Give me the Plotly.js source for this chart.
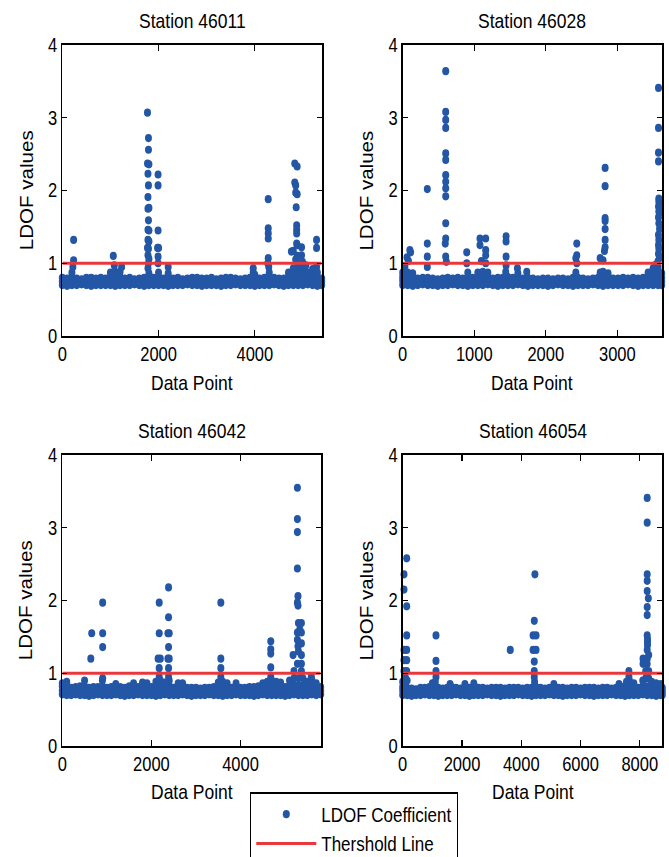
<!DOCTYPE html>
<html>
<head>
<meta charset="utf-8">
<script src="https://cdn.plot.ly/plotly-3.0.1.min.js"></script>
<style>
html,body{margin:0;padding:0;background:#fff;width:669px;height:857px;overflow:hidden;}
#chart{width:669px;height:760px;transform-origin:0 0;}
</style>
</head>
<body>
<div id="chart"></div>
<script>
// ---------- DATA ----------
const stationNames = ['Station 46011', 'Station 46028', 'Station 46042', 'Station 46054'];
const lastPoint = [5390, 3620, 5800, 8760];
const thresholdValue = 1;
const yTicks = [0, 1, 2, 3, 4];

// Station 46011 : dense band of ordinary points (three rows)
const base46011X = [0,100,200,300,400,500,600,700,800,900,1000,1100,1200,1300,1400,1500,1600,1700,1800,1900,2000,2100,2200,2300,2400,2500,2600,2700,2800,2900,3000,3100,3200,3300,3400,3500,3600,3700,3800,3900,4000,4100,4200,4300,4400,4500,4600,4700,4800,4900,5000,5100,5200,5300,5390];
const base46011Lo = [0.70,0.69,0.70,0.70,0.71,0.70,0.69,0.70,0.70,0.70,0.70,0.69,0.70,0.70,0.70,0.71,0.70,0.69,0.70,0.70,0.70,0.70,0.69,0.70,0.70,0.70,0.71,0.70,0.70,0.69,0.70,0.70,0.70,0.69,0.70,0.70,0.71,0.70,0.70,0.70,0.69,0.70,0.70,0.70,0.71,0.70,0.69,0.70,0.70,0.70,0.70,0.71,0.70,0.69,0.70];
const base46011Mid = [0.75,0.75,0.76,0.74,0.75,0.75,0.75,0.74,0.75,0.75,0.76,0.75,0.75,0.74,0.75,0.75,0.74,0.75,0.76,0.75,0.75,0.75,0.75,0.74,0.75,0.75,0.75,0.75,0.74,0.75,0.75,0.74,0.75,0.75,0.75,0.75,0.74,0.75,0.75,0.75,0.76,0.75,0.75,0.76,0.75,0.74,0.75,0.76,0.76,0.76,0.76,0.75,0.76,0.75,0.75];
const base46011Hi = [0.80,0.79,0.81,0.79,0.78,0.80,0.80,0.79,0.80,0.79,0.81,0.80,0.81,0.79,0.80,0.78,0.79,0.80,0.81,0.80,0.81,0.79,0.80,0.79,0.80,0.78,0.79,0.80,0.80,0.79,0.79,0.80,0.78,0.79,0.80,0.80,0.79,0.78,0.79,0.80,0.81,0.79,0.80,0.81,0.80,0.79,0.79,0.81,0.82,0.82,0.82,0.81,0.81,0.80,0.79];
// Station 46011 : raised points / outliers
const out46011X = [200,1000,1100,1200,1800,2000,2200,3967,4000,4300,4700,4800,4800,4900,4900,5000,5000,5100,5200,5200,5300,
  235,235,220,1060,1080,1233,
  1770,1790,1790,1770,1800,1780,1790,1780,1800,1780,1790,1780,1800,1780,1800,1770,1790,1780,1800,1790,1780,
  1990,1990,1990,1980,2000,1990,1990,2200,3967,
  4279,4279,4279,4279,4279,4270,4290,
  4830,4880,4830,4850,4850,4880,4860,4870,4870,4870,4870,4880,4800,4760,4880,4850,4900,4971,4971,4990,5060,
  5283,5283,5283];
const out46011Y = [0.87,0.87,0.88,0.88,0.86,0.87,0.86,0.87,0.84,0.87,0.87,0.87,0.93,0.87,0.93,0.87,0.93,0.87,0.87,0.92,0.87,
  1.32,1.04,0.95,1.10,0.97,0.95,
  3.07,2.72,2.56,2.37,2.36,2.23,2.07,1.91,1.76,1.75,1.59,1.46,1.45,1.32,1.30,1.21,1.20,1.11,1.06,1.00,0.93,
  2.22,2.07,1.45,1.21,1.21,1.09,1.00,0.95,0.93,
  1.88,1.48,1.41,1.34,1.07,1.00,0.95,
  2.37,2.33,2.11,2.07,1.97,1.95,1.77,1.52,1.46,1.41,1.27,1.25,1.17,1.16,1.10,1.05,1.00,1.22,1.11,1.02,0.97,
  1.32,1.21,0.95];

// Station 46028
const base46028X = [0,70,140,210,280,350,420,490,560,630,700,770,840,910,980,1050,1120,1190,1260,1330,1400,1470,1540,1610,1680,1750,1820,1890,1960,2030,2100,2170,2240,2310,2380,2450,2520,2590,2660,2730,2800,2870,2940,3010,3080,3150,3220,3290,3360,3430,3500,3570,3620];
const base46028Lo = [0.70,0.70,0.69,0.70,0.71,0.70,0.70,0.69,0.70,0.70,0.71,0.70,0.70,0.69,0.70,0.70,0.70,0.71,0.70,0.69,0.70,0.70,0.70,0.71,0.70,0.69,0.70,0.70,0.70,0.69,0.70,0.71,0.70,0.70,0.69,0.70,0.70,0.70,0.71,0.70,0.69,0.70,0.70,0.70,0.70,0.71,0.70,0.69,0.70,0.70,0.70,0.70,0.70];
const base46028Mid = [0.76,0.75,0.75,0.74,0.75,0.75,0.75,0.74,0.75,0.75,0.75,0.75,0.74,0.75,0.75,0.75,0.76,0.75,0.74,0.75,0.75,0.76,0.75,0.75,0.74,0.75,0.75,0.74,0.75,0.74,0.74,0.75,0.75,0.74,0.75,0.75,0.75,0.74,0.75,0.75,0.76,0.75,0.75,0.74,0.75,0.75,0.75,0.74,0.75,0.76,0.76,0.76,0.75];
const base46028Hi = [0.81,0.80,0.80,0.79,0.80,0.80,0.79,0.78,0.79,0.80,0.79,0.80,0.79,0.80,0.80,0.80,0.81,0.80,0.79,0.80,0.80,0.81,0.80,0.80,0.79,0.80,0.79,0.78,0.79,0.79,0.78,0.79,0.79,0.78,0.80,0.80,0.79,0.78,0.79,0.80,0.81,0.80,0.79,0.79,0.80,0.79,0.80,0.79,0.80,0.81,0.82,0.82,0.80];
const out46028X = [0,70,140,910,1050,1120,1190,1440,1610,2420,2760,2800,2870,3430,3500,3570,3620,3500,3570,
  60,100,110,80,30,
  344,344,344,344,
  601,601,601,601,601,601,601,601,601,601,601,601,595,601,610,
  895,895,
  1080,1080,1160,1160,1160,1100,1160,
  1445,1445,1445,1445,1603,1734,
  2433,2433,2420,2433,
  2829,2829,2829,2829,2829,2829,2829,2820,2760,2800,
  3575,3575,3575,3575,3580,3580,3575,3580,3575,3580,3590,3575,3580,3575,3580,3575,3590,3570,3600,3600,3600,3540];
const out46028Y = [0.87,0.87,0.86,0.87,0.87,0.88,0.87,0.88,0.86,0.87,0.87,0.88,0.86,0.87,0.88,0.90,0.86,0.93,0.95,
  1.08,1.18,1.15,1.03,0.95,
  2.02,1.27,1.09,0.95,
  3.64,3.08,2.97,2.86,2.51,2.42,2.21,2.12,2.03,1.92,1.55,1.34,1.27,1.09,1.02,
  1.15,1.00,
  1.34,1.25,1.34,1.18,1.11,1.03,1.00,
  1.37,1.30,1.09,0.97,0.93,0.88,
  1.27,1.11,1.07,1.00,
  2.31,2.06,1.62,1.58,1.47,1.32,1.22,1.17,1.07,1.04,
  3.41,2.86,2.52,2.40,1.89,1.85,1.78,1.71,1.63,1.55,1.47,1.39,1.32,1.25,1.20,1.13,1.08,1.03,1.50,1.70,1.80,0.98];

// Station 46042
const base46042X = [0,100,200,300,400,500,600,700,800,900,1000,1100,1200,1300,1400,1500,1600,1700,1800,1900,2000,2100,2200,2300,2400,2500,2600,2700,2800,2900,3000,3100,3200,3300,3400,3500,3600,3700,3800,3900,4000,4100,4200,4300,4400,4500,4600,4700,4800,4900,5000,5100,5200,5300,5400,5500,5600,5700,5800];
const base46042Lo = [0.71,0.70,0.70,0.71,0.70,0.70,0.69,0.70,0.71,0.70,0.70,0.70,0.71,0.70,0.69,0.70,0.70,0.71,0.70,0.70,0.70,0.69,0.70,0.71,0.70,0.70,0.70,0.71,0.70,0.69,0.70,0.70,0.70,0.71,0.70,0.70,0.69,0.70,0.70,0.71,0.70,0.70,0.70,0.69,0.70,0.71,0.70,0.70,0.70,0.70,0.69,0.70,0.71,0.70,0.70,0.70,0.71,0.70,0.71];
const base46042Mid = [0.76,0.76,0.75,0.76,0.76,0.76,0.75,0.75,0.76,0.76,0.75,0.75,0.76,0.76,0.75,0.76,0.76,0.75,0.76,0.76,0.75,0.76,0.77,0.76,0.77,0.75,0.76,0.76,0.75,0.75,0.75,0.74,0.75,0.75,0.76,0.76,0.76,0.75,0.75,0.76,0.75,0.75,0.75,0.76,0.76,0.76,0.76,0.77,0.76,0.76,0.75,0.77,0.77,0.77,0.77,0.76,0.76,0.76,0.76];
const base46042Hi = [0.82,0.82,0.80,0.81,0.82,0.82,0.80,0.81,0.81,0.82,0.80,0.81,0.82,0.81,0.80,0.82,0.82,0.81,0.82,0.82,0.81,0.82,0.83,0.82,0.83,0.80,0.82,0.82,0.80,0.80,0.80,0.79,0.80,0.80,0.81,0.82,0.82,0.81,0.80,0.82,0.80,0.80,0.81,0.81,0.82,0.82,0.82,0.83,0.82,0.82,0.81,0.83,0.83,0.83,0.83,0.82,0.82,0.82,0.81];
const out46042X = [0,100,500,900,1200,1600,1800,1900,2100,2200,2300,2400,2600,2700,3500,3600,3700,3900,4500,4600,4700,4800,4900,5100,5200,5300,5400,5500,5600,5700,
  640,660,906,906,906,906,
  2175,2175,2150,2200,2175,2175,
  2385,2385,2370,2400,2385,2370,2400,2385,2385,
  3558,3558,3558,3558,
  4679,4679,4679,4679,4679,
  5277,5277,5277,5277,5290,5277,5290,5300,5277,5277,5290,5180,5277,5200,5367,5367,5367,5367,5367,5367,5300,5330,5590];
const out46042Y = [0.86,0.88,0.90,0.90,0.85,0.86,0.87,0.86,0.88,0.90,0.87,0.90,0.86,0.86,0.87,0.88,0.86,0.86,0.86,0.88,0.90,0.88,0.87,0.90,0.93,0.93,0.93,0.88,0.91,0.86,
  1.20,1.55,1.97,1.55,1.36,0.93,
  1.97,1.55,1.20,1.20,1.07,0.95,
  2.18,1.77,1.55,1.55,1.36,1.20,1.20,1.07,0.95,
  1.97,1.20,1.07,0.95,
  1.44,1.33,1.27,1.08,0.95,
  3.55,3.12,2.94,2.44,2.06,1.97,1.93,1.69,1.56,1.46,1.37,1.25,1.13,1.03,1.69,1.56,1.41,1.25,1.13,1.03,1.30,1.60,0.95];

// Station 46054
const base46054X = [0,150,300,450,600,750,900,1050,1200,1350,1500,1650,1800,1950,2100,2250,2400,2550,2700,2850,3000,3150,3300,3450,3600,3750,3900,4050,4200,4350,4500,4650,4800,4950,5100,5250,5400,5550,5700,5850,6000,6150,6300,6450,6600,6750,6900,7050,7200,7350,7500,7650,7800,7950,8100,8250,8400,8550,8700,8760];
const base46054Lo = [0.70,0.70,0.69,0.70,0.70,0.71,0.70,0.70,0.69,0.70,0.70,0.70,0.71,0.70,0.70,0.69,0.70,0.70,0.70,0.71,0.70,0.70,0.69,0.70,0.70,0.70,0.71,0.70,0.70,0.69,0.70,0.70,0.70,0.71,0.70,0.70,0.69,0.70,0.70,0.70,0.71,0.70,0.70,0.69,0.70,0.70,0.70,0.71,0.70,0.70,0.69,0.70,0.70,0.70,0.71,0.70,0.70,0.69,0.70,0.70];
const base46054Mid = [0.76,0.75,0.74,0.74,0.75,0.75,0.76,0.76,0.75,0.74,0.75,0.76,0.75,0.74,0.76,0.75,0.76,0.75,0.75,0.74,0.75,0.75,0.75,0.74,0.75,0.75,0.75,0.74,0.75,0.75,0.76,0.75,0.74,0.75,0.76,0.75,0.75,0.74,0.75,0.75,0.74,0.75,0.75,0.75,0.74,0.75,0.75,0.74,0.75,0.76,0.76,0.76,0.76,0.75,0.76,0.76,0.76,0.76,0.76,0.75];
const base46054Hi = [0.81,0.80,0.79,0.78,0.80,0.80,0.81,0.82,0.80,0.79,0.80,0.81,0.80,0.79,0.81,0.80,0.81,0.80,0.80,0.79,0.80,0.80,0.80,0.79,0.80,0.80,0.80,0.79,0.80,0.80,0.81,0.80,0.79,0.80,0.81,0.80,0.80,0.79,0.80,0.80,0.79,0.80,0.80,0.80,0.79,0.80,0.80,0.79,0.80,0.81,0.82,0.82,0.81,0.80,0.82,0.82,0.82,0.81,0.81,0.80];
const out46054X = [0,150,1000,1100,1600,2100,2400,4450,5100,7300,7550,7650,7800,8100,8200,8300,8400,8550,8700,
  44,44,44,44,44,135,135,135,135,135,135,100,
  1123,1123,1123,1123,
  3630,
  4462,4440,4400,4500,4400,4500,4440,4440,4440,
  7633,7633,
  8250,8250,8250,8250,8250,8290,8250,8250,8250,8260,8260,8250,8110,8250,8110,8250,8200,8300,8260,8300];
const out46054Y = [0.88,0.90,0.86,0.88,0.85,0.85,0.86,0.88,0.85,0.85,0.88,0.90,0.86,0.90,0.93,0.93,0.88,0.86,0.85,
  2.36,2.15,1.32,1.18,1.03,2.58,1.92,1.52,1.32,1.18,1.03,0.93,
  1.52,1.17,1.03,0.95,
  1.32,
  2.36,1.72,1.52,1.52,1.32,1.32,1.16,1.03,0.95,
  1.03,0.95,
  3.41,3.07,2.36,2.27,2.13,2.03,1.91,1.80,1.52,1.43,1.39,1.32,1.20,1.20,1.13,1.13,1.03,1.03,1.47,1.25];

// ---------- BUILD ----------
const FONT = 'Liberation Sans, Arial, sans-serif';
const BLUE = '#2456a6';
const RED = '#e8383b';
const S = 1.174;          // vertical stretch of the original figure
const W = 669, HD = 760;  // internal drawing size (stretched by S, clipped to 857)
document.getElementById('chart').style.transform = 'scale(1,' + S + ')';

const series = [
  {bx: base46011X, lo: base46011Lo, mid: base46011Mid, hi: base46011Hi, ox: out46011X, oy: out46011Y},
  {bx: base46028X, lo: base46028Lo, mid: base46028Mid, hi: base46028Hi, ox: out46028X, oy: out46028Y},
  {bx: base46042X, lo: base46042Lo, mid: base46042Mid, hi: base46042Hi, ox: out46042X, oy: out46042Y},
  {bx: base46054X, lo: base46054Lo, mid: base46054Mid, hi: base46054Hi, ox: out46054X, oy: out46054Y}
];

// plot boxes in screen pixels [left, right, top, bottom]
const boxes = [
  [62.3, 321.7, 45, 336],
  [402.7, 661.7, 45, 336],
  [62.3, 320.7, 455, 746],
  [402.7, 662.3, 455, 746]
];
const py = v => 1 - (v / S) / HD;   // screen y -> paper y

const traces = [];
const lineTraces = [];
const layout = {
  width: W, height: HD,
  margin: {l: 0, r: 0, t: 0, b: 0},
  paper_bgcolor: '#fff', plot_bgcolor: '#fff',
  font: {family: FONT, size: 17.5, color: '#000'},
  showlegend: true,
  legend: {
    x: 250 / W, y: py(792), xanchor: 'left', yanchor: 'top',
    bordercolor: '#000', borderwidth: 1.3, bgcolor: '#fff',
    font: {family: FONT, size: 17, color: '#000'},
    tracegroupgap: 0, itemwidth: 60
  },
  annotations: []
};

series.forEach((s, i) => {
  const sfx = i === 0 ? '' : String(i + 1);
  const xa = 'x' + sfx, ya = 'y' + sfx;
  const xs = s.bx.concat(s.bx, s.bx, s.ox);
  const ys = s.lo.concat(s.mid, s.hi, s.oy);
  traces.push({
    type: 'scatter', mode: 'markers', x: xs, y: ys, xaxis: xa, yaxis: ya,
    name: 'LDOF Coefficient', legendgroup: 'ldof', showlegend: i === 0,
    marker: {color: BLUE, size: 7, line: {width: 0}},
    cliponaxis: false, hoverinfo: 'skip'
  });
  lineTraces.push({
    type: 'scatter', mode: 'lines', x: [0, lastPoint[i]], y: [thresholdValue, thresholdValue],
    xaxis: xa, yaxis: ya,
    name: 'Thershold Line', legendgroup: 'thr', showlegend: i === 0,
    line: {color: RED, width: 2.6}, hoverinfo: 'skip'
  });
  const b = boxes[i];
  const axCommon = {
    showgrid: false, zeroline: false, showline: true, linecolor: '#000', linewidth: 1.8,
    mirror: 'ticks', ticks: 'inside', ticklen: 5, tickwidth: 1.2, tickcolor: '#000',
    tickfont: {family: FONT, size: 16.5, color: '#000'}, fixedrange: true
  };
  layout['xaxis' + sfx] = Object.assign({}, axCommon, {
    domain: [b[0] / W, b[1] / W], range: [0, lastPoint[i]], anchor: ya,
    dtick: i === 1 ? 1000 : 2000, tick0: 0
  });
  layout['yaxis' + sfx] = Object.assign({}, axCommon, {
    domain: [py(b[3]), py(b[2])], range: [0, 4], anchor: xa,
    tickvals: yTicks, ticktext: yTicks.map(String)
  });
  const cx = (b[0] + b[1]) / 2 / W;
  const af = {family: FONT, size: 17.5, color: '#000'};
  layout.annotations.push(
    {text: stationNames[i], xref: 'paper', yref: 'paper', x: cx, y: py(b[2] - 24),
     xanchor: 'center', yanchor: 'middle', showarrow: false, font: af},
    {text: 'Data Point', xref: 'paper', yref: 'paper', x: cx, y: py(b[3] + 47),
     xanchor: 'center', yanchor: 'middle', showarrow: false, font: af},
    {text: 'LDOF values', xref: 'paper', yref: 'paper', x: (b[0] - 35.5) / W, y: py((b[2] + b[3]) / 2),
     xanchor: 'center', yanchor: 'middle', textangle: -90, showarrow: false, font: af}
  );
});

Plotly.newPlot('chart', traces.concat(lineTraces), layout, {displayModeBar: false, staticPlot: true});
</script>
</body>
</html>
